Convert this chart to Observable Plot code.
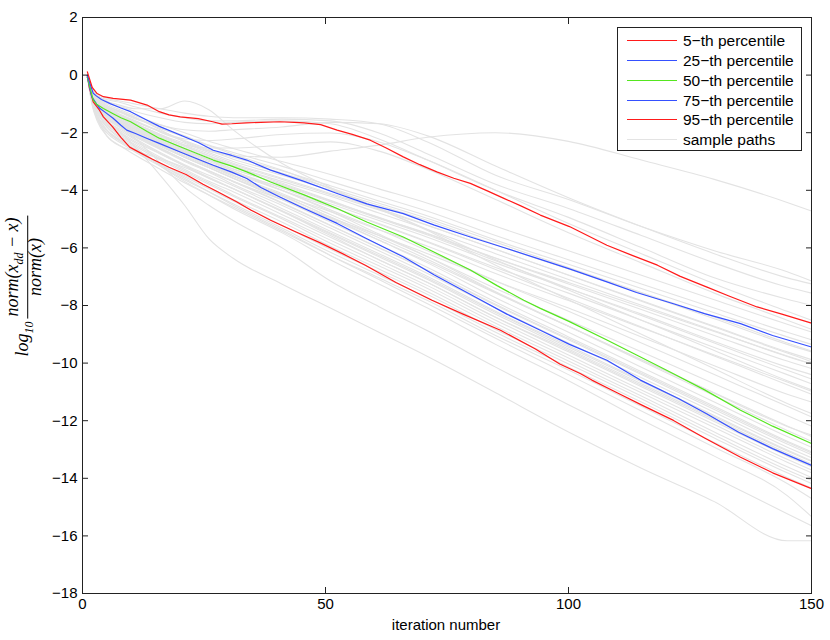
<!DOCTYPE html>
<html><head><meta charset="utf-8">
<script src="https://cdn.jsdelivr.net/npm/d3@7"></script>
<script src="https://cdn.jsdelivr.net/npm/@observablehq/plot@0.6"></script>
<style>
body{margin:0;background:#fff;}
#wrap{position:relative;width:830px;height:640px;font-family:"Liberation Sans",Arial,sans-serif;color:#000;}
#wrap svg{position:absolute;left:0;top:0;}
#legend{position:absolute;left:617px;top:27px;width:185px;height:124px;border:1px solid #222;background:#fff;box-sizing:border-box;}
.lrow{position:absolute;left:0;height:20px;width:100%;}
.lline{position:absolute;left:9px;top:9px;width:50px;height:0;border-top:1.3px solid #000;}
.ltext{position:absolute;left:65px;top:0;font-size:15.5px;line-height:20px;white-space:nowrap;}
#xlabel{position:absolute;left:446px;top:624px;transform:translate(-50%,-50%);font-size:15px;white-space:nowrap;}
#ylabel{position:absolute;left:24px;top:286px;transform:translate(-50%,-50%) rotate(-90deg);font-family:"Liberation Serif","DejaVu Serif",serif;font-style:italic;font-size:18px;white-space:nowrap;display:flex;align-items:center;}
#ylabel .frac{display:inline-flex;flex-direction:column;align-items:center;margin-left:3px;}
#ylabel .num{border-bottom:1px solid #000;padding:0 2px;line-height:15px;}
#ylabel .den{line-height:15px;}
#ylabel sub{font-size:12px;}
</style></head><body>
<div id="wrap"></div>
<script>
// iteration numbers at which the sample paths are read
const iterKnots = [1,2,3,5,8,11,16,21,26,31,41,51,61,71,85,100,115,130,145,150];

// sample paths (log10 relative error)
const u1 = [-0.01,-0.54,-0.75,-1.06,-1.27,-1.48,-1.9,-2.32,-2.64,-2.79,-2.85,-2.64,-2.43,-2.16,-2.0,-2.3,-2.95,-3.62,-4.42,-4.72];
const u2 = [0.04,-0.49,-0.7,-0.9,-1.06,-1.17,-1.17,-0.9,-1.2,-1.9,-3.06,-3.9,-4.63,-5.36,-6.41,-7.46,-8.51,-9.56,-10.61,-10.93];
const u3 = [0.04,-0.43,-0.64,-0.8,-0.91,-1.01,-1.17,-1.32,-1.43,-1.48,-1.48,-1.53,-1.69,-2.32,-3.48,-4.32,-5.26,-6.1,-6.83,-7.15];
const u4 = [-0.01,-0.49,-0.7,-0.85,-0.96,-1.11,-1.32,-1.48,-1.59,-1.59,-1.53,-1.59,-2.01,-2.74,-3.79,-4.63,-5.57,-6.52,-7.36,-7.57];
const u5 = [-0.01,-0.54,-0.75,-0.96,-1.11,-1.27,-1.48,-1.64,-1.69,-1.64,-1.59,-1.69,-2.22,-2.95,-4.0,-4.94,-5.99,-7.04,-7.78,-7.99];
const u6 = [-0.01,-0.59,-0.85,-1.11,-1.32,-1.53,-1.74,-1.9,-1.95,-1.9,-1.8,-1.64,-1.69,-2.11,-3.16,-4.26,-5.26,-6.2,-7.04,-7.25];
const u7 = [-0.01,-0.59,-0.85,-1.17,-1.43,-1.64,-1.95,-2.22,-2.27,-2.22,-2.06,-2.01,-2.32,-2.95,-4.0,-5.15,-6.2,-7.25,-8.2,-8.51];
const u8 = [-0.01,-0.64,-0.9,-1.22,-1.48,-1.69,-2.06,-2.43,-2.53,-2.53,-2.43,-2.32,-2.64,-3.27,-4.32,-5.47,-6.52,-7.57,-8.51,-8.83];
const s1 = [-0.01,-0.54,-0.8,-1.06,-1.27,-1.48,-1.8,-2.11,-2.43,-2.69,-3.16,-3.69,-4.21,-4.73,-5.57,-6.41,-7.25,-8.09,-8.93,-9.19];
const s2 = [-0.01,-0.59,-0.85,-1.11,-1.38,-1.59,-1.95,-2.27,-2.58,-2.85,-3.32,-3.84,-4.37,-4.89,-5.73,-6.57,-7.41,-8.25,-9.09,-9.35];
const s3 = [-0.07,-0.64,-0.9,-1.17,-1.43,-1.69,-2.06,-2.37,-2.69,-3.0,-3.48,-4.0,-4.52,-5.05,-5.89,-6.73,-7.57,-8.46,-9.35,-9.61];
const s4 = [-0.01,-0.59,-0.85,-1.17,-1.48,-1.74,-2.11,-2.43,-2.74,-3.06,-3.58,-4.11,-4.63,-5.21,-6.05,-6.94,-7.83,-8.72,-9.61,-9.88];
const s5 = [-0.07,-0.64,-0.96,-1.27,-1.53,-1.8,-2.22,-2.53,-2.85,-3.16,-3.69,-4.21,-4.79,-5.36,-6.2,-7.1,-7.99,-8.88,-9.77,-10.03];
const s6 = [-0.01,-0.7,-1.01,-1.32,-1.59,-1.85,-2.27,-2.64,-2.95,-3.27,-3.79,-4.37,-4.94,-5.52,-6.36,-7.25,-8.14,-9.04,-9.93,-10.19];
const s7 = [-0.07,-0.64,-0.96,-1.27,-1.59,-1.9,-2.32,-2.69,-3.06,-3.37,-3.9,-4.47,-5.05,-5.63,-6.52,-7.41,-8.3,-9.25,-10.14,-10.4];
const s8 = [-0.01,-0.7,-1.01,-1.38,-1.69,-1.95,-2.37,-2.74,-3.11,-3.42,-4.0,-4.58,-5.15,-5.78,-6.68,-7.57,-8.51,-9.46,-10.4,-10.72];
const s9 = [-0.07,-0.75,-1.06,-1.38,-1.69,-2.01,-2.43,-2.85,-3.21,-3.58,-4.16,-4.74,-5.37,-5.94,-6.89,-7.83,-8.77,-9.72,-10.66,-10.98];
const s10 = [-0.01,-0.7,-1.06,-1.43,-1.74,-2.06,-2.53,-2.95,-3.32,-3.69,-4.32,-4.95,-5.57,-6.2,-7.15,-8.09,-9.09,-10.09,-11.08,-11.35];
const m1 = [-0.01,-0.7,-1.01,-1.32,-1.64,-1.9,-2.32,-2.69,-3.06,-3.37,-4.0,-4.68,-5.36,-6.1,-7.15,-8.2,-9.3,-10.4,-11.5,-11.87];
const m2 = [-0.07,-0.75,-1.06,-1.38,-1.69,-1.95,-2.37,-2.74,-3.11,-3.48,-4.11,-4.84,-5.57,-6.31,-7.41,-8.51,-9.61,-10.72,-11.82,-12.19];
const m3 = [-0.01,-0.75,-1.11,-1.48,-1.8,-2.06,-2.48,-2.85,-3.21,-3.58,-4.26,-5.0,-5.73,-6.47,-7.57,-8.72,-9.88,-11.03,-12.18,-12.55];
const f1 = [-0.01,-0.64,-0.96,-1.27,-1.53,-1.8,-2.22,-2.58,-2.95,-3.32,-4.0,-4.73,-5.52,-6.31,-7.52,-8.72,-9.93,-11.13,-12.34,-12.71];
const f2 = [-0.07,-0.7,-1.01,-1.32,-1.64,-1.9,-2.32,-2.74,-3.11,-3.48,-4.16,-4.94,-5.73,-6.52,-7.73,-8.93,-10.14,-11.35,-12.55,-12.92];
const f3 = [-0.01,-0.75,-1.06,-1.43,-1.74,-2.01,-2.43,-2.85,-3.21,-3.58,-4.32,-5.1,-5.89,-6.68,-7.88,-9.09,-10.3,-11.5,-12.71,-13.08];
const f4 = [-0.07,-0.75,-1.11,-1.48,-1.8,-2.11,-2.53,-2.95,-3.32,-3.69,-4.42,-5.21,-5.99,-6.78,-7.99,-9.19,-10.4,-11.61,-12.81,-13.18];
const f5 = [-0.01,-0.8,-1.17,-1.53,-1.85,-2.16,-2.58,-3.0,-3.37,-3.79,-4.52,-5.31,-6.1,-6.89,-8.09,-9.3,-10.51,-11.71,-12.92,-13.29];
const f6 = [-0.07,-0.8,-1.17,-1.59,-1.9,-2.22,-2.69,-3.11,-3.48,-3.84,-4.63,-5.42,-6.2,-6.99,-8.2,-9.4,-10.61,-11.82,-13.02,-13.39];
const f7 = [-0.01,-0.85,-1.22,-1.64,-2.01,-2.32,-2.74,-3.16,-3.58,-3.95,-4.73,-5.52,-6.31,-7.1,-8.3,-9.51,-10.72,-11.92,-13.13,-13.5];
const f8 = [-0.07,-0.85,-1.27,-1.69,-2.06,-2.37,-2.85,-3.27,-3.69,-4.05,-4.84,-5.63,-6.41,-7.2,-8.41,-9.61,-10.82,-12.03,-13.23,-13.6];
const f9 = [-0.01,-0.9,-1.32,-1.74,-2.11,-2.43,-2.9,-3.32,-3.74,-4.16,-4.94,-5.73,-6.52,-7.31,-8.51,-9.72,-10.93,-12.13,-13.34,-13.71];
const f10 = [-0.07,-0.9,-1.38,-1.8,-2.16,-2.48,-2.95,-3.37,-3.79,-4.21,-4.99,-5.84,-6.62,-7.41,-8.62,-9.82,-11.03,-12.24,-13.44,-13.81];
const f11 = [-0.01,-0.96,-1.43,-1.9,-2.27,-2.58,-3.06,-3.48,-3.9,-4.32,-5.1,-5.94,-6.73,-7.52,-8.72,-9.93,-11.14,-12.39,-13.6,-13.97];
const f12 = [-0.07,-0.96,-1.48,-1.95,-2.32,-2.64,-3.11,-3.53,-3.95,-4.37,-5.21,-6.05,-6.83,-7.62,-8.83,-10.03,-11.24,-12.5,-13.71,-14.07];
const f13 = [-0.01,-1.01,-1.53,-2.01,-2.37,-2.69,-3.16,-3.63,-4.05,-4.47,-5.31,-6.15,-6.94,-7.73,-8.93,-10.14,-11.35,-12.6,-13.81,-14.18];
const f14 = [-0.07,-1.06,-1.59,-2.11,-2.48,-2.79,-3.27,-3.74,-4.16,-4.58,-5.42,-6.26,-7.04,-7.83,-9.04,-10.24,-11.5,-12.76,-13.97,-14.34];
const e1 = [-0.01,-0.96,-1.48,-2.11,-2.48,-2.64,-2.9,-3.21,-3.58,-3.95,-4.73,-5.57,-6.41,-7.2,-8.41,-9.56,-10.77,-11.97,-13.18,-13.55];
const l1 = [-0.01,-0.75,-1.17,-1.59,-2.01,-2.53,-3.48,-4.52,-5.68,-6.36,-7.25,-8.09,-8.93,-9.77,-11.03,-12.39,-13.65,-14.81,-16.17,-16.17];
const l2 = [-0.01,-0.64,-0.96,-1.38,-1.8,-2.22,-3.06,-3.9,-4.52,-5.05,-5.99,-7.15,-8.04,-8.88,-10.14,-11.45,-12.71,-13.97,-15.23,-15.65];
const l3 = [-0.01,-0.85,-1.27,-1.8,-2.22,-2.53,-3.16,-3.69,-4.16,-4.63,-5.47,-6.41,-7.25,-8.09,-9.35,-10.61,-11.97,-13.23,-14.6,-15.33];
const l4 = [-0.07,-0.9,-1.38,-1.9,-2.32,-2.64,-3.11,-3.58,-4.05,-4.52,-5.37,-6.26,-7.1,-7.94,-9.14,-10.4,-11.66,-12.92,-14.18,-14.7];
const a1 = [-0.04,-0.62,-0.88,-1.15,-1.4,-1.62,-1.98,-2.3,-2.62,-2.92,-3.4,-3.92,-4.45,-4.98,-5.8,-6.68,-7.55,-8.4,-9.3,-9.58];
const a2 = [-0.04,-0.66,-0.93,-1.22,-1.5,-1.75,-2.15,-2.48,-2.8,-3.1,-3.62,-4.15,-4.68,-5.22,-6.05,-6.95,-7.85,-8.75,-9.65,-9.95];
const a3 = [-0.04,-0.68,-0.98,-1.3,-1.58,-1.84,-2.25,-2.6,-2.93,-3.25,-3.82,-4.4,-4.98,-5.55,-6.45,-7.4,-8.35,-9.3,-10.25,-10.55];
const a4 = [-0.04,-0.72,-1.03,-1.35,-1.64,-1.9,-2.3,-2.66,-3.0,-3.33,-3.92,-4.55,-5.18,-5.8,-6.75,-7.75,-8.75,-9.75,-10.75,-11.08];
const a5 = [-0.04,-0.72,-1.05,-1.4,-1.72,-1.98,-2.4,-2.8,-3.16,-3.52,-4.2,-4.92,-5.65,-6.4,-7.55,-8.72,-9.88,-11.05,-12.2,-12.5];
const a6 = [-0.04,-0.78,-1.12,-1.5,-1.82,-2.12,-2.56,-2.96,-3.35,-3.7,-4.45,-5.22,-6.0,-6.78,-7.96,-9.15,-10.35,-11.55,-12.75,-13.12];
const a7 = [-0.04,-0.82,-1.2,-1.6,-1.95,-2.26,-2.72,-3.14,-3.55,-3.94,-4.7,-5.48,-6.26,-7.05,-8.24,-9.45,-10.65,-11.86,-13.05,-13.42];
const a8 = [-0.01,-0.55,-0.8,-1.05,-1.3,-1.5,-1.85,-2.15,-2.45,-2.75,-3.3,-3.95,-4.65,-5.4,-6.6,-7.8,-9.0,-10.2,-11.4,-11.75];
const a9 = [-0.04,-0.6,-0.88,-1.18,-1.45,-1.7,-2.1,-2.45,-2.8,-3.15,-3.75,-4.35,-4.95,-5.5,-6.35,-7.2,-8.05,-8.9,-9.75,-10.02];
const a10 = [-0.01,-0.5,-0.75,-1.0,-1.22,-1.42,-1.72,-2.0,-2.3,-2.55,-3.0,-3.45,-3.95,-4.45,-5.25,-6.1,-6.95,-7.8,-8.65,-8.92];
const samplePaths = [u1,u2,u3,u4,u5,u6,u7,u8,s1,s2,s3,s4,s5,s6,s7,s8,s9,s10,m1,m2,m3,f1,f2,f3,f4,f5,f6,f7,f8,f9,f10,f11,f12,f13,f14,e1,l1,l2,l3,l4,a1,a2,a3,a4,a5,a6,a7,a8,a9,a10];

// percentile curves
const p5X = [1,1.4,2.2,3.5,4.3,6.2,7.9,9.7,11.9,14.4,17.8,21.3,24.8,27.8,31.7,34.7,38.7,43.6,48.6,53.5,58.2,64.5,71.9,78.3,86,93.2,98.2,102.5,104.8,110,115,121.6,128,135.4,142,150];
const p5Y = [-0.01,-0.43,-0.93,-1.22,-1.45,-1.8,-2.16,-2.5,-2.7,-2.92,-3.2,-3.45,-3.79,-4.05,-4.4,-4.69,-5.04,-5.42,-5.8,-6.2,-6.6,-7.2,-7.82,-8.3,-8.86,-9.51,-10.03,-10.37,-10.59,-11.03,-11.45,-11.99,-12.6,-13.27,-13.81,-14.36];
const p25X = [1,1.9,2.9,3.6,4.9,6.3,7.9,9.1,10.9,13.3,15.8,20.1,23.8,26.9,30.7,33.8,36.7,40.6,45.6,52.4,58.5,66,72.4,81.1,87.3,94.2,100.2,107.9,114.8,122.7,128.5,135,142,150];
const p25Y = [-0.07,-0.75,-1.01,-1.16,-1.32,-1.5,-1.74,-1.91,-2.03,-2.2,-2.37,-2.67,-2.92,-3.13,-3.37,-3.59,-3.9,-4.23,-4.63,-5.15,-5.68,-6.31,-6.94,-7.73,-8.3,-8.86,-9.35,-9.9,-10.59,-11.24,-11.77,-12.4,-12.97,-13.55];
const p50X = [1,1.4,2.2,2.9,4.3,6.3,7.9,9.9,13.3,15.8,20.1,23.8,26.9,30.7,33.8,38.7,45.6,52.4,58.5,66,72.4,79.8,85.3,90.8,94.2,100.2,107.9,114,121.6,128,135.4,142,150];
const p50Y = [-0.07,-0.33,-0.87,-1.01,-1.16,-1.34,-1.48,-1.62,-1.96,-2.19,-2.49,-2.74,-2.95,-3.16,-3.36,-3.71,-4.16,-4.63,-5.1,-5.62,-6.15,-6.77,-7.31,-7.82,-8.1,-8.56,-9.2,-9.72,-10.37,-10.93,-11.64,-12.19,-12.79];
const p75X = [1,1.9,2.2,2.9,3.9,5.7,7.9,9.9,13.3,15.8,20.1,23.8,26.9,30.7,33.8,38.7,45.6,52.4,58.5,66,72.4,79.8,87.3,94.2,100.2,107.9,114,121.6,128,135.4,142,150];
const p75Y = [-0.01,-0.48,-0.63,-0.73,-0.85,-0.99,-1.14,-1.27,-1.57,-1.78,-2.08,-2.34,-2.61,-2.79,-2.95,-3.3,-3.69,-4.11,-4.47,-4.81,-5.21,-5.62,-6.02,-6.4,-6.73,-7.18,-7.55,-7.94,-8.28,-8.63,-9.04,-9.44];
const p95X = [1,2,3,4.3,6.3,9.9,13.3,15.8,17.8,20.1,23.8,26.8,28.7,30.7,33.7,36.7,40.6,43.6,45.6,49,52.4,55.5,59.2,62.5,66,69.4,72.9,76.4,79.8,83.3,86.7,90.3,94.2,100.2,107.9,113.1,118.3,123,128.5,133,138.8,143.9,150];
const p95Y = [0.11,-0.43,-0.64,-0.75,-0.81,-0.87,-1.04,-1.27,-1.38,-1.45,-1.51,-1.62,-1.7,-1.69,-1.66,-1.64,-1.62,-1.64,-1.66,-1.72,-1.91,-2.06,-2.26,-2.53,-2.84,-3.11,-3.36,-3.58,-3.76,-4.02,-4.28,-4.55,-4.86,-5.26,-5.91,-6.26,-6.6,-6.99,-7.36,-7.67,-8.05,-8.3,-8.61];

const xTicks = [0,50,100,150];
const yTicks = [-18,-16,-14,-12,-10,-8,-6,-4,-2,0,2];
const legendLabels = ["5−th percentile","25−th percentile","50−th percentile","75−th percentile","95−th percentile","sample paths"];

const RED = "#ff1a1a", BLUE = "#3550ff", GREEN = "#55e61f", GREY = "#e3e3e3";
const legendColors = [RED, BLUE, GREEN, BLUE, RED, GREY];

const sampleRows = samplePaths.flatMap((ys, i) => iterKnots.map((x, j) => ({x, y: ys[j], id: i})));
const pct = [
  {xs: p5X, ys: p5Y, c: RED},
  {xs: p25X, ys: p25Y, c: BLUE},
  {xs: p50X, ys: p50Y, c: GREEN},
  {xs: p75X, ys: p75Y, c: BLUE},
  {xs: p95X, ys: p95Y, c: RED}
];
const fmt = d => d < 0 ? "\u2212" + (-d) : String(d);

const chart = Plot.plot({
  width: 830, height: 640,
  marginLeft: 82, marginRight: 19, marginTop: 17, marginBottom: 47,
  x: {domain: [0, 150]},
  y: {domain: [-18, 2]},
  style: {fontSize: "15px", fontFamily: "'Liberation Sans', Arial, sans-serif", color: "#000", background: "transparent", overflow: "visible"},
  marks: [
    Plot.line(sampleRows, {x: "x", y: "y", z: "id", stroke: GREY, strokeWidth: 1.1, curve: "monotone-x"}),
    ...pct.map(p => Plot.line(p.xs.map((x, i) => ({x, y: p.ys[i]})), {x: "x", y: "y", stroke: p.c, strokeWidth: 1.2})),
    Plot.frame({stroke: "#222", strokeWidth: 1}),
    Plot.axisX({ticks: xTicks, tickSize: -6, tickPadding: 11, label: null, tickFormat: fmt, stroke: "#222"}),
    Plot.axisX({anchor: "top", ticks: xTicks, tickSize: -6, tickFormat: () => "", label: null, stroke: "#222"}),
    Plot.axisY({ticks: yTicks, tickSize: -6, tickPadding: 11, label: null, tickFormat: fmt, stroke: "#222"}),
    Plot.axisY({anchor: "right", ticks: yTicks, tickSize: -6, tickFormat: () => "", label: null, stroke: "#222"})
  ]
});
const wrap = document.getElementById("wrap");
wrap.appendChild(chart);

// legend
const leg = document.createElement("div");
leg.id = "legend";
legendLabels.forEach((t, i) => {
  const row = document.createElement("div");
  row.className = "lrow";
  row.style.top = (3 + i * 19.85) + "px";
  const ln = document.createElement("div");
  ln.className = "lline";
  ln.style.borderTopColor = legendColors[i];
  const tx = document.createElement("div");
  tx.className = "ltext";
  tx.textContent = t;
  row.appendChild(ln); row.appendChild(tx);
  leg.appendChild(row);
});
wrap.appendChild(leg);

const xl = document.createElement("div");
xl.id = "xlabel";
xl.textContent = "iteration number";
wrap.appendChild(xl);

const yl = document.createElement("div");
yl.id = "ylabel";
yl.innerHTML = '<span>log<sub>10</sub></span><span class="frac"><span class="num">norm(x<sub>dd</sub> \u2212 x)</span><span class="den">norm(x)</span></span>';
wrap.appendChild(yl);
</script>
</body></html>
